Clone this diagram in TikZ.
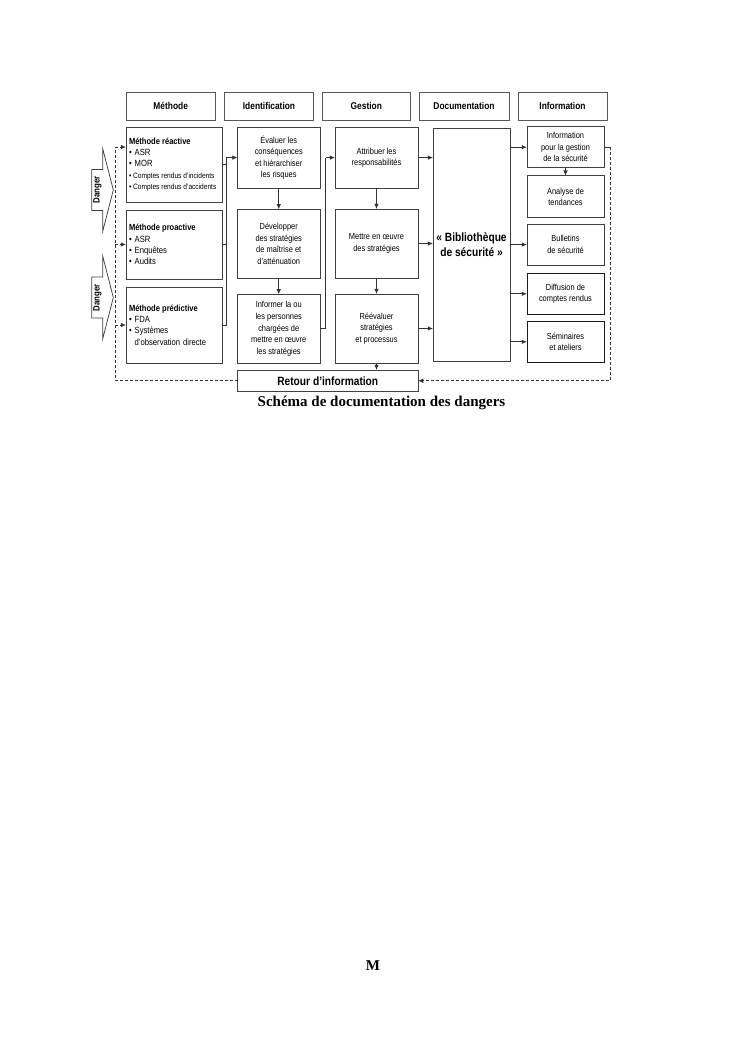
\documentclass[tikz,border=0pt]{standalone}
\usepackage{fontspec}
\setmainfont{Liberation Serif}
\newfontfamily\nar[FakeStretch=0.85]{Liberation Sans}
\newcommand\sk{\spaceskip=0.24em plus 0.1em minus 0.05em\relax}
\usetikzlibrary{arrows.meta,calc}
\begin{document}
\begin{tikzpicture}[x=0.8pt,y=-0.8pt,
  box/.style={draw=black!75, line width=0.6pt, inner sep=0pt, outer sep=0pt},
  wh/.style 2 args={minimum width=#1*0.8pt, minimum height=#2*0.8pt},
  hdr/.style={box, draw=black!65, font=\nar\bfseries\fontsize{7.9}{9}\selectfont\sk},
  txt/.style={box, align=center, font=\nar\fontsize{7}{9.3}\selectfont\sk},
  ltxt/.style={box, align=left, inner xsep=2.4pt, text width=72pt, font=\nar\fontsize{7.2}{9}\selectfont\sk},
  big/.style={box, align=center, font=\nar\bfseries\fontsize{9.6}{12}\selectfont\sk},
  ln/.style={draw=black!80, line width=0.6pt},
  arr/.style={-{Latex[length=4.2pt,width=3.6pt]}},
  dsh/.style={ln, dash pattern=on 2.4pt off 1.6pt},
  dng/.style={draw=black!75, line width=0.6pt, fill=white},
  dtxt/.style={font=\nar\bfseries\fontsize{7.4}{8}\selectfont, inner sep=0pt}
]
\useasboundingbox (0,0) rectangle (745,1053);

% headers
\node[hdr, wh={89.3}{27.7}] (hM) at (170.7,106.2) {Méthode};
\node[hdr, wh={88.6}{27.7}] (hI) at (269,106.2) {Identification};
\node[hdr, wh={88.7}{27.7}] (hG) at (366.3,106.2) {Gestion};
\node[hdr, wh={90}{27.7}] (hD) at (464,106.2) {Documentation};
\node[hdr, wh={89}{27.7}] (hN) at (562.5,106.2) {Information};

% column 1
\node[ltxt, wh={96}{75}] (reac) at (174,164.5) {{\bfseries\fontsize{7.1}{9}\selectfont\sk Méthode réactive}\\
 • ASR\\ • MOR\\ {\fontsize{6.2}{9}\selectfont\sk • Comptes rendus d’incidents}\\ {\fontsize{6.2}{9}\selectfont\sk • Comptes rendus d’accidents}};
\node[ltxt, wh={96}{69}] (proa) at (174,244.5) {{\bfseries\fontsize{7.1}{9}\selectfont\sk Méthode proactive}\\
 • ASR\\ • Enquêtes\\ • Audits};
\node[ltxt, wh={96}{76}] (pred) at (174,325) {{\bfseries\fontsize{7.1}{9}\selectfont\sk Méthode prédictive}\\
 • FDA\\ • Systèmes\\ \phantom{• }d’observation directe};

% column 2
\node[txt, wh={82.5}{61.3}] (eval) at (278.75,157.6) {Évaluer les\\conséquences\\et hiérarchiser\\les risques};
\node[txt, wh={82.5}{69}] (dev) at (278.75,243.8) {Développer\\des stratégies\\de maîtrise et\\d’atténuation};
\node[txt, wh={82.5}{69}] (inf) at (278.75,328.8) {Informer la ou\\les personnes\\chargées de\\mettre en œuvre\\les stratégies};

% column 3
\node[txt, wh={83}{61.3}] (attr) at (376.5,157.6) {Attribuer les\\responsabilités};
\node[txt, wh={83}{69}] (mett) at (376.5,243.5) {Mettre en œuvre\\des stratégies};
\node[txt, wh={83}{69}] (reev) at (376.5,328.5) {Réévaluer\\stratégies\\et processus};

% retour
\node[big, wh={180.5}{21.5}] (retour) at (327.75,380.75) {Retour d’information};

% column 4
\node[big, wh={77}{232.7}] (bib) at (471.5,244.6) {« Bibliothèque\\de sécurité »};

% column 5
\node[txt, wh={77}{41}] (i1) at (565.5,147.2) {Information\\pour la gestion\\de la sécurité};
\node[txt, wh={77}{42}] (i2) at (565.5,196.7) {Analyse de\\tendances};
\node[txt, wh={77}{40.7}] (i3) at (565.5,244.6) {Bulletins\\de sécurité};
\node[txt, wh={77}{41}, draw=black!90] (i4) at (565.5,293.8) {Diffusion de\\comptes rendus};
\node[txt, wh={77}{41.7}, draw=black!90] (i5) at (565.5,341.8) {Séminaires\\et ateliers};

% danger arrows
\draw[dng] (91.7,169.5) -- (102.7,169.5) -- (102.7,148.5) -- (113.3,190) -- (102.7,231.5) -- (102.7,210.5) -- (91.7,210.5) -- cycle;
\node[dtxt, rotate=90] (d1) at (97.4,190) {Danger};
\draw[dng] (91.7,277) -- (102.7,277) -- (102.7,256) -- (113.3,297.5) -- (102.7,339) -- (102.7,318) -- (91.7,318) -- cycle;
\node[dtxt, rotate=90] (d2) at (97.4,297.5) {Danger};

% bracket column 1 -> evaluer
\coordinate (j1x) at (226,0);
\draw[ln] (reac.east) -- (reac.east -| j1x);
\draw[ln] (proa.east) -- (proa.east -| j1x);
\draw[ln] (pred.east) -- (pred.east -| j1x) -- (j1x |- eval.west);
\draw[ln,arr] (j1x |- eval.west) -- (eval.west);

% identification column
\draw[ln,arr] (eval.south) -- (dev.north);
\draw[ln,arr] (dev.south) -- (inf.north);

% bracket informer -> attribuer
\coordinate (j2x) at (325.5,0);
\draw[ln] (inf.east) -- (inf.east -| j2x) -- (j2x |- attr.west);
\draw[ln,arr] (j2x |- attr.west) -- (attr.west);

% gestion column
\draw[ln,arr] (attr.south) -- (mett.north);
\draw[ln,arr] (mett.south) -- (reev.north);
\draw[ln,arr] (reev.south) -- (retour.north -| reev.south);

% gestion -> bibliotheque
\draw[ln,arr] (attr.east) -- (attr.east -| bib.west);
\draw[ln,arr] (mett.east) -- (mett.east -| bib.west);
\draw[ln,arr] (reev.east) -- (reev.east -| bib.west);

% bibliotheque -> information
\draw[ln,arr] (bib.east |- i1.west) -- (i1.west);
\draw[ln,arr] (bib.east |- i3.west) -- (i3.west);
\draw[ln,arr] (bib.east |- i4.west) -- (i4.west);
\draw[ln,arr] (bib.east |- i5.west) -- (i5.west);
\draw[ln,arr] (i1.south) -- (i2.north);

% feedback loop
\coordinate (rx) at (610,0);
\draw[ln] (i1.east) -- (i1.east -| rx);
\draw[dsh,arr] (i1.east -| rx) -- (rx |- retour.east) -- (retour.east);
\coordinate (lx) at (115,147);
\draw[dsh] (retour.west) -| (lx);
\draw[dsh,arr] (lx) -- (lx -| reac.west);
\draw[dsh,arr] (lx |- proa.west) -- (proa.west);
\draw[dsh,arr] (lx |- pred.west) -- (pred.west);

% caption and page mark
\node[anchor=base, font=\bfseries\fontsize{12}{14}\selectfont] (cap) at (381.5,406.5) {Schéma de documentation des dangers};
\node[anchor=base, font=\bfseries\fontsize{12}{14}\selectfont] (pg) at (373,970.5) {M};
\end{tikzpicture}
\end{document}
